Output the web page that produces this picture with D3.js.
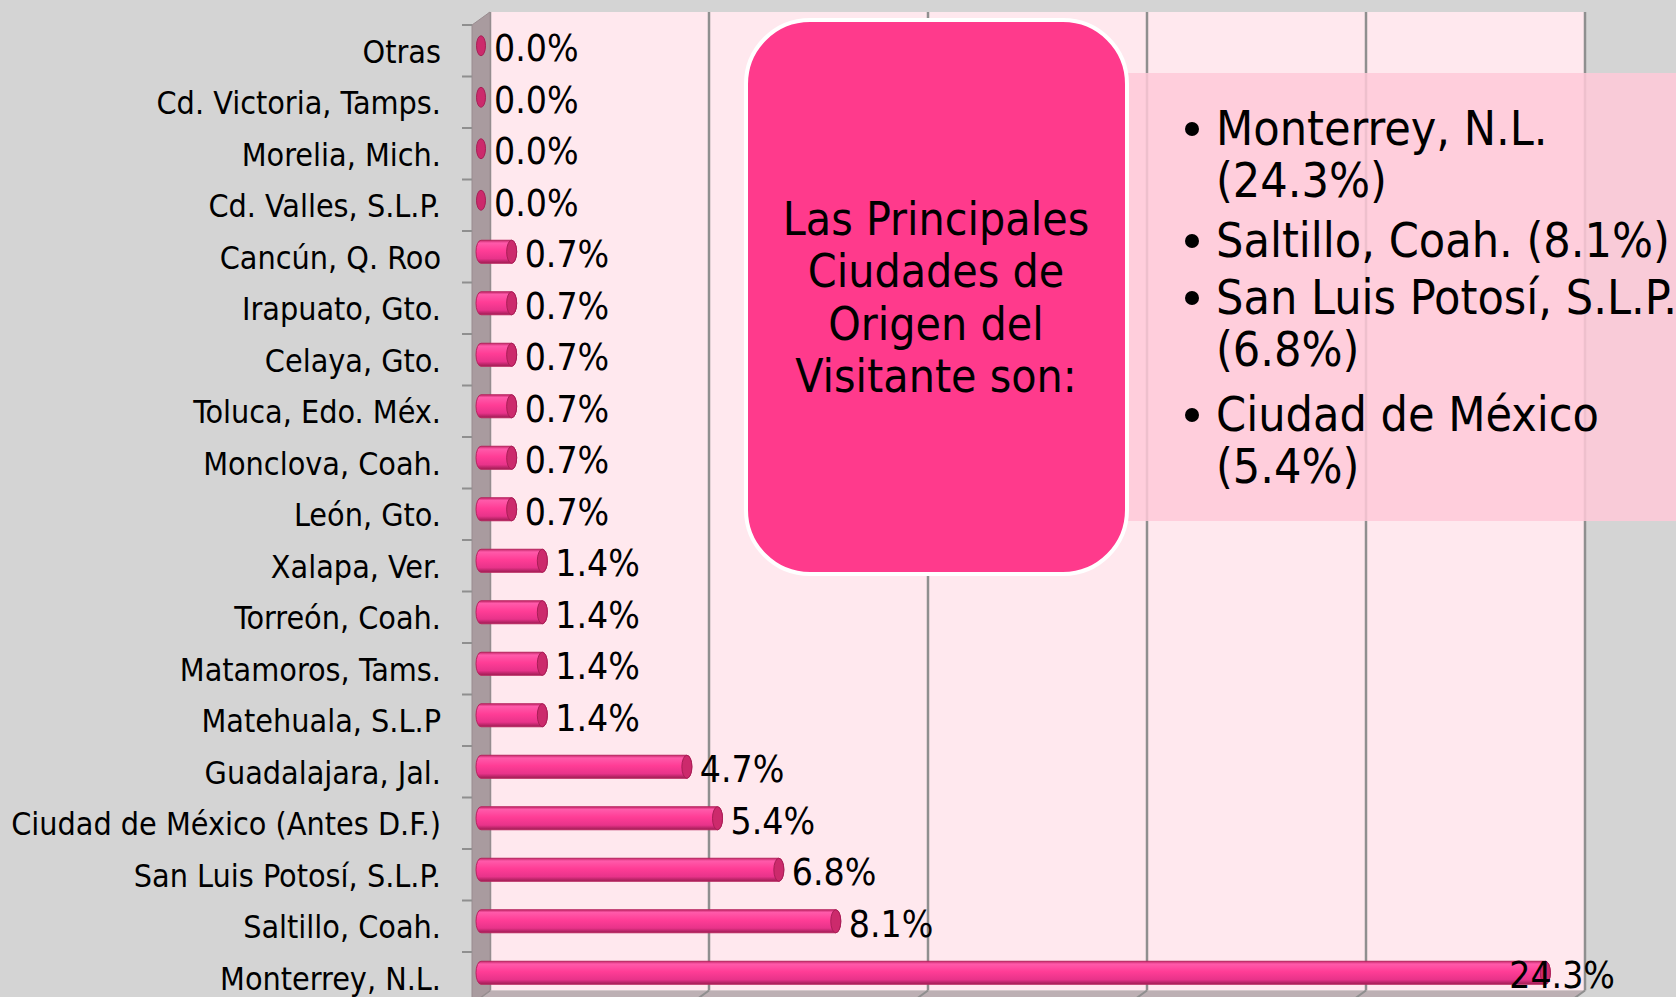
<!DOCTYPE html>
<html lang="es">
<head>
<meta charset="UTF-8">
<title>Ciudades de origen del visitante</title>
<script src="https://cdn.jsdelivr.net/npm/d3@7"></script>
<style>
  body { margin: 0; background: #d4d4d4; }
  svg { display: block; font-family: "DejaVu Sans Condensed", "DejaVu Sans", sans-serif; }
</style>
</head>
<body>
<script>
var categories = ["Otras", "Cd. Victoria, Tamps.", "Morelia, Mich.", "Cd. Valles, S.L.P.",
  "Cancún, Q. Roo", "Irapuato, Gto.", "Celaya, Gto.", "Toluca, Edo. Méx.", "Monclova, Coah.",
  "León, Gto.", "Xalapa, Ver.", "Torreón, Coah.", "Matamoros, Tams.", "Matehuala, S.L.P",
  "Guadalajara, Jal.", "Ciudad de México (Antes D.F.)", "San Luis Potosí, S.L.P.",
  "Saltillo, Coah.", "Monterrey, N.L."];
var values = [0, 0, 0, 0, 0.7, 0.7, 0.7, 0.7, 0.7, 0.7, 1.4, 1.4, 1.4, 1.4, 4.7, 5.4, 6.8, 8.1, 24.3];
var gridTicks = [0, 5, 10, 15, 20, 25];
var calloutTitle = ["Las Principales", "Ciudades de", "Origen del", "Visitante son:"];
var calloutItems = [["Monterrey, N.L.", "(24.3%)"], ["Saltillo, Coah. (8.1%)"],
  ["San Luis Potosí, S.L.P.", "(6.8%)"], ["Ciudad de México", "(5.4%)"]];

var W = 1676, H = 997;
var depthX = 18, depthY = -13;      // 3d offset of the back wall
var front = 472, top0 = 25, rowH = 51.5;

var svg = d3.select("body").append("svg").attr("width", W).attr("height", H);

var x = d3.scaleLinear().domain([0, 25]).range([481, 1576]);
var y = d3.scaleBand().domain(categories).range([top0, top0 + rowH * categories.length]);
var bottom = top0 + rowH * categories.length;

var defs = svg.append("defs");
var g1 = defs.append("linearGradient").attr("id", "cyl").attr("x1", 0).attr("y1", 0).attr("x2", 0).attr("y2", 1);
[["0%", "#c4286a"], ["12%", "#ff5aaa"], ["45%", "#ff3d96"], ["80%", "#e8338a"], ["100%", "#9c1c52"]]
  .forEach(function (s) { g1.append("stop").attr("offset", s[0]).attr("stop-color", s[1]); });

// back wall
svg.append("rect").attr("x", front + depthX).attr("y", top0 + depthY)
  .attr("width", x(25) + 9 - (front + depthX)).attr("height", bottom - top0)
  .attr("fill", "#ffe8ee");

// floor
svg.append("polygon")
  .attr("points", [[front, bottom], [front + depthX, bottom + depthY], [x(25) + 9, bottom + depthY], [x(25) - 9, bottom]].join(" "))
  .attr("fill", "#bdb0b4");

// gridlines on wall + floor
svg.selectAll(".grid").data(gridTicks).enter().append("line")
  .attr("x1", function (d) { return x(d) + 9; }).attr("x2", function (d) { return x(d) + 9; })
  .attr("y1", top0 + depthY).attr("y2", bottom + depthY)
  .attr("stroke", "#8f8f8f").attr("stroke-width", 2.5);
svg.selectAll(".fgrid").data(gridTicks).enter().append("line")
  .attr("x1", function (d) { return x(d) + 9; }).attr("x2", function (d) { return x(d) - 9; })
  .attr("y1", bottom + depthY).attr("y2", bottom)
  .attr("stroke", "#8f8f8f").attr("stroke-width", 2);

// left wall
svg.append("polygon")
  .attr("points", [[front, top0], [front + depthX, top0 + depthY], [front + depthX, bottom + depthY], [front, bottom]].join(" "))
  .attr("fill", "#a99b9f").attr("stroke", "#9a8c90").attr("stroke-width", 1);

// ticks
svg.selectAll(".tick").data(d3.range(categories.length + 1)).enter().append("line")
  .attr("x1", front - 10).attr("x2", front)
  .attr("y1", function (i) { return top0 + i * rowH; }).attr("y2", function (i) { return top0 + i * rowH; })
  .attr("stroke", "#8f8f8f").attr("stroke-width", 2);

// category labels
svg.selectAll(".cat").data(categories).enter().append("text")
  .attr("x", 441).attr("y", function (d) { return y(d) + y.bandwidth() / 2 + 1; })
  .attr("text-anchor", "end").attr("dominant-baseline", "central")
  .attr("font-size", 32).attr("fill", "#000").text(function (d) { return d; });

// bars as cylinders
var ry = 11.5, rx = 5;
var bars = svg.selectAll(".bar").data(values).enter().append("g")
  .attr("transform", function (d, i) { return "translate(0," + (y(categories[i]) + y.bandwidth() / 2 - 5) + ")"; });
bars.filter(function (d) { return d > 0; }).append("path")
  .attr("d", function (d) {
    var x0 = x(0), x1 = x(d);
    return "M" + x0 + "," + (-ry) + " L" + x1 + "," + (-ry) +
      " A" + rx + "," + ry + " 0 0 1 " + x1 + "," + ry +
      " L" + x0 + "," + ry + " A" + rx + "," + ry + " 0 0 1 " + x0 + "," + (-ry) + "Z";
  })
  .attr("fill", "url(#cyl)").attr("stroke", "#b8245f").attr("stroke-width", 1);
bars.append("ellipse")
  .attr("cx", function (d) { return x(d); }).attr("cy", 0)
  .attr("rx", function (d) { return d > 0 ? rx : 4.5; }).attr("ry", function (d) { return d > 0 ? ry : 10; })
  .attr("fill", "#cc2a6c").attr("stroke", "#a81e56").attr("stroke-width", 1);

// value labels
var maxRight = 1615;
svg.selectAll(".val").data(values).enter().append("text")
  .attr("y", function (d, i) { return y(categories[i]) + y.bandwidth() / 2 - 2; })
  .attr("dominant-baseline", "central").attr("font-size", 37).attr("fill", "#000")
  .text(function (d) { return d.toFixed(1) + "%"; })
  .attr("x", function (d) {
    var w = this.getComputedTextLength();
    var px = x(d) + 13;
    return px + w > maxRight ? maxRight - w : px;
  });

// callout boxes
var box2 = svg.append("g");
box2.append("rect").attr("x", 1100).attr("y", 73).attr("width", W - 1100).attr("height", 448)
  .attr("fill", "#ffc9d8").attr("opacity", 0.85);
var itemY = [128, 240, 297, 414], lineGap = 52;
calloutItems.forEach(function (lines, k) {
  box2.append("circle").attr("cx", 1192).attr("cy", itemY[k] + 1).attr("r", 7).attr("fill", "#000");
  lines.forEach(function (t, j) {
    box2.append("text").attr("x", 1216).attr("y", itemY[k] + j * lineGap)
      .attr("dominant-baseline", "central").attr("font-size", 48).attr("fill", "#000").text(t);
  });
});

svg.append("rect").attr("x", 746).attr("y", 20).attr("width", 381).attr("height", 554)
  .attr("rx", 64).attr("ry", 64).attr("fill", "#ff3a8c").attr("stroke", "#fff").attr("stroke-width", 4);
svg.selectAll(".title").data(calloutTitle).enter().append("text")
  .attr("x", 936).attr("y", function (d, i) { return 219 + i * 52.4; })
  .attr("text-anchor", "middle").attr("dominant-baseline", "central")
  .attr("font-size", 46).attr("fill", "#000").text(function (d) { return d; });
</script>
</body>
</html>
